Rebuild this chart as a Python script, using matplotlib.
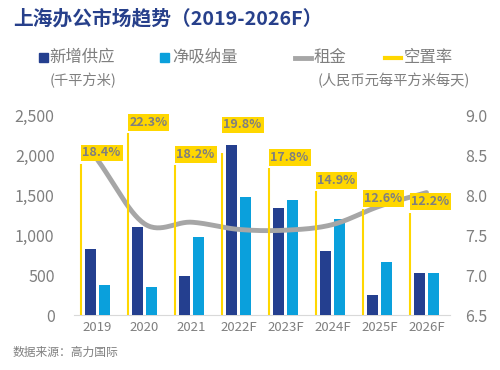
import numpy as np
import matplotlib
matplotlib.use("Agg")
import matplotlib.pyplot as plt
from matplotlib.lines import Line2D
from matplotlib.patches import Rectangle

plt.rcParams['font.family'] = ['Noto Sans CJK SC', 'DejaVu Sans']

categories = ["2019", "2020", "2021", "2022F", "2023F", "2024F", "2025F", "2026F"]
new_supply = [830, 1100, 490, 2120, 1340, 800, 250, 530]
net_absorption = [380, 350, 980, 1480, 1440, 1200, 660, 530]
rent = [8.44, 7.64, 7.66, 7.57, 7.56, 7.63, 7.86, 8.03]
vacancy = [18.4, 22.3, 18.2, 19.8, 17.8, 14.9, 12.6, 12.2]
legend_labels = ["新增供应", "净吸纳量", "租金", "空置率"]

DARK = "#243F8F"
LIGHT = "#0AA0DC"
GRAY = "#A6A6A6"
YELLOW = "#FFD700"
TXT = "#7F7F7F"

W, H = 500, 370

def fx(px):
    return px / W

def fy(py):
    return 1 - py / H

def catmull_rom(xs, ys, n=30):
    xs = np.asarray(xs, float); ys = np.asarray(ys, float)
    px = np.concatenate([[2*xs[0]-xs[1]], xs, [2*xs[-1]-xs[-2]]])
    py = np.concatenate([[2*ys[0]-ys[1]], ys, [2*ys[-1]-ys[-2]]])
    ox, oy = [], []
    for i in range(1, len(px)-2):
        t = np.linspace(0, 1, n, endpoint=False)
        for P, out in ((px, ox), (py, oy)):
            p0, p1, p2, p3 = P[i-1], P[i], P[i+1], P[i+2]
            out.extend(0.5*((2*p1) + (-p0+p2)*t + (2*p0-5*p1+4*p2-p3)*t**2 + (-p0+3*p1-3*p2+p3)*t**3))
    ox.append(xs[-1]); oy.append(ys[-1])
    return np.array(ox), np.array(oy)

fig = plt.figure(figsize=(5, 3.7), dpi=100)
ax = fig.add_axes([fx(74), fy(315), fx(450) - fx(74), fy(115) - fy(315)])
x = np.arange(len(categories))
w = 0.235
ax.bar(x - 0.149, new_supply, w, color=DARK, zorder=3)
ax.bar(x + 0.149, net_absorption, w, color=LIGHT, zorder=3)
ax.set_xlim(-0.5, 7.5)
ax.set_ylim(0, 2500)
ax.set_yticks([0, 500, 1000, 1500, 2000, 2500])
ax.set_yticklabels(["0", "500", "1,000", "1,500", "2,000", "2,500"])
ax.set_xticks(x)
ax.set_xticklabels(categories)
ax.tick_params(axis='y', length=0, labelsize=11.5, labelcolor=TXT, pad=14)
ax.tick_params(axis='x', length=0, labelsize=9.5, labelcolor=TXT, pad=4)
for s in ["top", "right", "left"]:
    ax.spines[s].set_visible(False)
ax.spines["bottom"].set_color("#D9D9D9")

ax2 = ax.twinx()
ax2.set_ylim(6.5, 9.0)
ax2.set_yticks([6.5, 7.0, 7.5, 8.0, 8.5, 9.0])
ax2.set_yticklabels(["6.5", "7.0", "7.5", "8.0", "8.5", "9.0"])
ax2.tick_params(axis='y', length=0, labelsize=11.5, labelcolor=TXT, pad=11)
for s in ["top", "right", "left", "bottom"]:
    ax2.spines[s].set_visible(False)
sx, sy = catmull_rom(x, rent)
ax2.plot(sx, sy, color=GRAY, lw=3.5, solid_capstyle='round', zorder=4)

ax3 = ax.twinx()
ax3.set_ylim(-0.8, 24.57)
ax3.axis('off')
vx = x - 0.35
ax3.vlines(vx, -0.8, vacancy, color=YELLOW, lw=1.5, zorder=2)
label_lift = {3: 17}  # 2022F label raised above its bar, as in the reference
for i, (xi, v) in enumerate(zip(vx, vacancy)):
    ax3.annotate(f"{v:.1f}%", (xi, v), xytext=(1, 3 + label_lift.get(i, 0) * 0.72),
                 textcoords='offset points',
                 ha='left', va='bottom', fontsize=9, fontweight='bold', color=TXT,
                 bbox=dict(boxstyle='square,pad=0.15', fc=YELLOW, ec='none'), zorder=6)

fig.text(fx(13), fy(19), "上海办公市场趋势（2019-2026F）", fontsize=14.2, fontweight='bold',
         color="#27408B", va='center', ha='left')

# legend (manual layout)
ly = 57.5
fig.add_artist(Rectangle((fx(38.5), fy(62)), fx(9), fy(53) - fy(62), color=DARK, transform=fig.transFigure))
fig.add_artist(Rectangle((fx(160), fy(62)), fx(9), fy(53) - fy(62), color=LIGHT, transform=fig.transFigure))
fig.add_artist(Line2D([fx(295), fx(311)], [fy(ly), fy(ly)], color=GRAY, lw=3.5, transform=fig.transFigure))
fig.add_artist(Line2D([fx(385), fx(401)], [fy(ly), fy(ly)], color=YELLOW, lw=3, transform=fig.transFigure))
for px_, lab in zip([49, 172, 314, 404], legend_labels):
    fig.text(fx(px_), fy(ly), lab, fontsize=11.8, color=TXT, va='center', ha='left')

fig.text(fx(50), fy(80), "(千平方米)", fontsize=10.3, color=TXT, va='center')
fig.text(fx(318), fy(80), "(人民币元每平方米每天)", fontsize=10.3, color=TXT, va='center')
fig.text(fx(13), fy(352), "数据来源：高力国际", fontsize=8.5, color=TXT, va='center')

fig.savefig("out.png", dpi=100)
